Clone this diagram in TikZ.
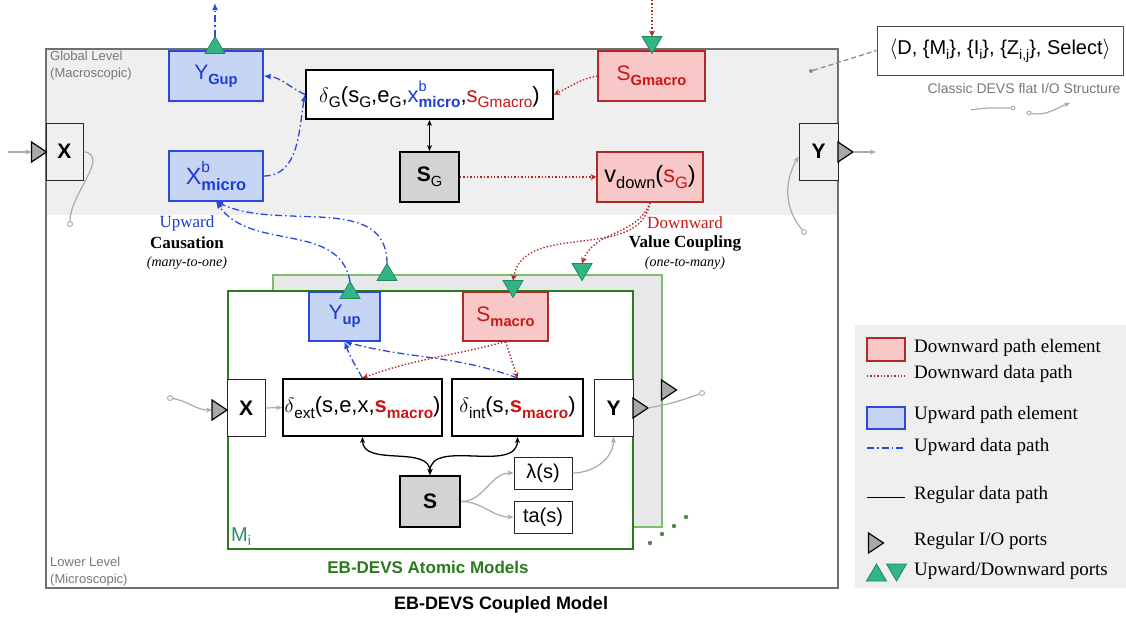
\documentclass[tikz,border=0pt]{standalone}
\usepackage{fontspec}
\setmainfont{Liberation Serif}
\setsansfont{Liberation Sans}
\usetikzlibrary{arrows.meta,positioning}

\definecolor{bggray}{HTML}{EFEFEF}
\definecolor{framegray}{HTML}{707070}
\definecolor{upfill}{HTML}{C6D5F4}
\definecolor{upline}{HTML}{2B48D8}
\definecolor{uptext}{HTML}{1E3CD2}
\definecolor{downfill}{HTML}{F8C8C8}
\definecolor{downline}{HTML}{B02828}
\definecolor{downtext}{HTML}{CC1515}
\definecolor{stategray}{HTML}{D3D3D3}
\definecolor{trifill}{HTML}{32B487}
\definecolor{triline}{HTML}{1E8A64}
\definecolor{iogray}{HTML}{AAAAAA}
\definecolor{portgray}{HTML}{A8A8A8}
\definecolor{atomgreen}{HTML}{2A7A1E}
\definecolor{backgreen}{HTML}{7DBE6E}
\definecolor{backfill}{HTML}{E8E8E8}
\definecolor{mteal}{HTML}{2E8B6E}
\definecolor{lvlgray}{HTML}{787878}

\newcommand{\subtx}[1]{\raisebox{-.45ex}{\fontsize{.7em}{.7em}\selectfont #1}}
\newcommand{\suptx}[1]{\raisebox{.95ex}{\fontsize{.66em}{.66em}\selectfont #1}}

\begin{document}
\begin{tikzpicture}[x=1pt,y=1pt,
	every node/.style={inner sep=0pt, font=\sffamily\fontsize{21}{21}\selectfont},
	sz/.style 2 args={minimum width=#1pt, minimum height=#2pt},
	big/.style={font=\sffamily\fontsize{22}{22}\selectfont},
	bigger/.style={font=\sffamily\fontsize{23.5}{23.5}\selectfont},
	upbox/.style={draw=upline, fill=upfill, line width=1.2pt, text=uptext},
	downbox/.style={draw=downline, fill=downfill, line width=1.2pt, text=downtext},
	fnbox/.style={draw=black, fill=white, line width=2pt},
	statebox/.style={draw=black, fill=stategray, line width=2pt},
	portbox/.style={draw=black!85, line width=1pt},
	outbox/.style={draw=black!85, fill=white, line width=1pt, font=\sffamily\fontsize{20}{20}\selectfont},
	upflow/.style={draw=upline, line width=1.3pt, dash pattern=on 7pt off 3pt on 1.5pt off 3pt, -{Latex[length=7pt,width=6pt]}},
	downflow/.style={draw=downline, line width=1.4pt, dash pattern=on 1.4pt off 2pt, -{Stealth[length=6pt,width=6pt]}},
	plainflow/.style={draw=black, line width=1.3pt, {Stealth[length=6pt,width=5pt]}-{Stealth[length=6pt,width=5pt]}},
	ioflow/.style={draw=iogray, line width=1.2pt, -{Stealth[length=6pt,width=5pt]}},
	pin/.style={circle, draw=iogray, fill=white, line width=.9pt, minimum size=5pt},
	tri/.style={fill=trifill, draw=triline, line width=.8pt},
	iotri/.style={fill=portgray, draw=black, line width=1.2pt},
	uptri/.pic={\draw[tri] (-10,-8.5) -- (0,8.5) -- (10,-8.5) -- cycle;
		\coordinate (-tip) at (0,8.5);},
	downtri/.pic={\draw[tri] (-10,8.5) -- (0,-8.5) -- (10,8.5) -- cycle;
		\coordinate (-top) at (0,8.5);},
	ioport/.pic={\draw[iotri] (-7.5,-10) -- (7.5,0) -- (-7.5,10) -- cycle;
		\coordinate (-in) at (-7.5,0); \coordinate (-out) at (7.5,0);},
	lvl/.style={text=lvlgray, align=left, font=\sffamily\fontsize{13}{17}\selectfont},
	note/.style={font=\rmfamily\fontsize{17}{17}\selectfont},
	legtext/.style={font=\rmfamily\fontsize{19}{19}\selectfont, anchor=west}]

	\useasboundingbox (0,0) rectangle (1126,-621);

	% coupled model frame
	\fill[bggray] (46,-49) rectangle (838,-215);
	\draw[framegray, line width=2pt] (46,-49) rectangle (838,-588);
	\node[lvl, anchor=north west] (glob) at (50,-51) {Global Level\\(Macroscopic)};
	\node[lvl, anchor=south west] (micro) at (50,-586) {Lower Level\\(Microscopic)};

	% global level
	\node[upbox, sz={94}{50}] (ygup) at (216,-76) {Y\subtx{\bfseries Gup}};
	\node[upbox, bigger, sz={94}{50}] (xb) at (216,-176) {X\rlap{\suptx{b}}\subtx{\bfseries micro}};
	\node[fnbox, big, sz={247}{49}] (dG) at (429.5,-94.5)
		{$\delta$\subtx{G}(s\subtx{G},e\subtx{G},\textcolor{uptext}{x\rlap{\suptx{b}}\subtx{\bfseries micro}},\textcolor{downtext}{s\subtx{Gmacro}})};
	\node[downbox, sz={107}{50}] (sgm) at (651.5,-76) {S\subtx{\bfseries Gmacro}};
	\node[statebox, sz={59}{50}] (sG) at (429.5,-177) {\bfseries S\subtx{\mdseries G}};
	\node[downbox, bigger, sz={106}{50}, text=black] (vd) at (650,-177) {v\subtx{down}(\textcolor{downtext}{s\subtx{G}})};
	\node[portbox, fill=bggray, sz={37}{57}] (gX) at (64.5,-151.5) {\bfseries X};
	\node[portbox, fill=bggray, sz={39}{57}] (gY) at (818.5,-151.5) {\bfseries Y};

	% flat structure
	\node[draw=black!70, line width=1pt, sz={246}{49}, font=\sffamily\fontsize{20}{20}\selectfont] (classic) at (1000,-50.5)
		{$\langle$D, \{M\subtx{i}\}, \{I\subtx{i}\}, \{Z\subtx{i,j}\}, Select$\rangle$};
	\node[text=lvlgray, font=\sffamily\fontsize{14}{14}\selectfont] (classiclbl) at (1024,-88) {Classic DEVS flat I/O Structure};
	\node[circle, fill=black!45, minimum size=4pt] (cdot) at (811,-71) {};
	\draw[black!45, line width=1.3pt, dash pattern=on 5pt off 3pt] (cdot) -- (classic.west);
	\coordinate (cs1) at (971,-110);
	\node[pin, minimum size=4pt] (cp1) at (1013,-108) {};
	\node[pin, minimum size=4pt] (cp2) at (1029,-113) {};
	\coordinate (cs2) at (1070,-103);
	\draw[iogray, line width=1.2pt] (cs1) to[out=10,in=180] (cp1);
	\draw[ioflow] (cp2) to[out=-10,in=200] (cs2);

	% atomic models
	\draw[backgreen, fill=backfill, line width=1.2pt] (273,-275) rectangle (662,-527);
	\draw[atomgreen, fill=white, line width=2pt] (228,-291) rectangle (633,-549);
	\node[upbox, sz={71}{49}] (yup) at (344.5,-316.5) {Y\subtx{\bfseries up}};
	\node[downbox, sz={85}{49}] (smac) at (505.5,-316.5) {S\subtx{\bfseries macro}};
	\node[fnbox, big, sz={159}{57}] (dext) at (362.5,-407.5)
		{$\delta$\subtx{ext}(s,e,x,\textcolor{downtext}{\bfseries s\subtx{macro}})};
	\node[fnbox, big, sz={131}{57}] (dint) at (517.5,-407.5)
		{$\delta$\subtx{int}(s,\textcolor{downtext}{\bfseries s\subtx{macro}})};
	\node[portbox, fill=white, sz={38}{57}] (aX) at (246,-408) {\bfseries X};
	\node[portbox, fill=white, sz={39}{57}] (aY) at (613.5,-408) {\bfseries Y};
	\node[statebox, sz={60}{51}] (sS) at (430,-501.5) {\bfseries S};
	\node[outbox, sz={58}{32}] (lam) at (543,-473) {λ(s)};
	\node[outbox, sz={58}{32}] (ta) at (543,-517) {ta(s)};
	\node[anchor=south west, text=mteal, font=\sffamily\fontsize{20}{20}\selectfont] (mi) at (231,-546) {M\subtx{i}};
	\node[text=atomgreen, font=\sffamily\bfseries\fontsize{17}{17}\selectfont] (atomlbl) at (428,-567) {EB-DEVS Atomic Models};
	\node[font=\sffamily\bfseries\fontsize{18}{18}\selectfont] (cplbl) at (501,-605) {EB-DEVS Coupled Model};
	\foreach \i/\j in {650/543, 662/534, 674/526, 686/517}
		\fill[atomgreen!85] (\i,-\j) circle (2.2pt);

	% ports
	\pic (gupt) at (215,-45) {uptri};
	\pic (gmt) at (652,-45) {downtri};
	\pic (yut) at (350,-290) {uptri};
	\pic (but) at (387,-272) {uptri};
	\pic (smt) at (513,-289) {downtri};
	\pic (bdt) at (582,-272) {downtri};
	\pic (gxp) at (39,-152) {ioport};
	\pic (gyp) at (845.5,-152) {ioport};
	\pic (axp) at (219.5,-410) {ioport};
	\pic (ayp) at (640.5,-408) {ioport};
	\pic (byp) at (669,-390) {ioport};

	% labels on the level crossing
	\node[note, text=uptext] (uplbl) at (187,-223) {Upward};
	\node[note, font=\rmfamily\bfseries\fontsize{17}{17}\selectfont] (causlbl) at (187,-243) {Causation};
	\node[note, font=\rmfamily\itshape\fontsize{14}{14}\selectfont] (manylbl) at (187,-263) {(many-to-one)};
	\node[note, text=downtext] (dnlbl) at (685,-223) {Downward};
	\node[note, font=\rmfamily\bfseries\fontsize{17}{17}\selectfont] (vclbl) at (685,-243) {Value Coupling};
	\node[note, font=\rmfamily\itshape\fontsize{14}{14}\selectfont] (onelbl) at (685,-263) {(one-to-many)};

	% upward paths
	\coordinate (gupout) at (215,-3);
	\draw[upflow] (gupt-tip) -- (gupout);
	\draw[upflow] (dG.west) to[out=155,in=-5] (ygup.east);
	\draw[upflow] (xb.east) to[out=0,in=-100] (dG.west);
	\draw[upflow] (yut-tip) to[out=100,in=-55] (xb.south);
	\draw[upflow] (but-tip) to[out=90,in=-25] (xb.south);
	\draw[upflow] (dext.north) to[out=120,in=-70] (yup.south);
	\draw[upflow] (dint.north) to[out=160,in=-15] (yup.south);

	% downward paths
	\coordinate (gmin) at (652,0);
	\draw[downflow] (gmin) -- (gmt-top);
	\draw[downflow] (sgm.west) to[out=190,in=25] (dG.east);
	\draw[downflow] (sG.east) -- (vd.west);
	\draw[downflow] (vd.south) to[out=-100,in=80] (smt-top);
	\draw[downflow] (vd.south) to[out=-110,in=70] (bdt-top);
	\draw[downflow] (smac.south) to[out=-165,in=20] (dext.north);
	\draw[downflow] (smac.south) -- (dint.north);

	% regular paths
	\draw[plainflow] (dG.south) -- (sG.north);
	\draw[plainflow] (dext.south) to[out=-90,in=90] (sS.north);
	\draw[plainflow] (dint.south) to[out=-90,in=90] (sS.north);
	\coordinate (gin) at (8,-152);
	\coordinate (gout) at (876,-152);
	\draw[ioflow] (gin) -- (gxp-in);
	\draw[ioflow] (gyp-out) -- (gout);
	\node[pin] (gxpin) at (70,-224) {};
	\node[pin] (gypin) at (804,-232) {};
	\draw[iogray, line width=1.2pt] (gX.east) to[out=-10,in=90] (gxpin);
	\draw[ioflow] (gypin) to[out=130,in=-120] ([yshift=-5pt]gY.west);
	\node[pin] (axpin) at (170,-398) {};
	\node[pin] (aypin) at (702,-393) {};
	\draw[ioflow] (axpin) to[out=-10,in=180] (axp-in);
	\draw[ioflow] (aX.east) -- (dext.west);
	\draw[iogray, line width=1.2pt] (ayp-out) to[out=10,in=200] (aypin);
	\draw[ioflow] (sS.east) to[out=0,in=180] (lam.west);
	\draw[ioflow] (sS.east) to[out=0,in=180] (ta.west);
	\draw[ioflow] (lam.east) to[out=0,in=-90] (aY.south);

	% legend
	\fill[bggray] (855,-325) rectangle (1126,-588);
	\node[downbox, sz={38}{23}] (lgdown) at (886,-349.5) {};
	\node[legtext] (lt1) at (914,-348) {Downward path element};
	\coordinate (ld1) at (867,-376); \coordinate (ld2) at (905,-376);
	\draw[downflow,-] (ld1) -- (ld2);
	\node[legtext] (lt2) at (914,-374) {Downward data path};
	\node[upbox, sz={38}{22}] (lgup) at (886,-418) {};
	\node[legtext] (lt3) at (914,-415) {Upward path element};
	\coordinate (lu1) at (867,-448); \coordinate (lu2) at (905,-448);
	\draw[upflow,-] (lu1) -- (lu2);
	\node[legtext] (lt4) at (914,-447) {Upward data path};
	\coordinate (lr1) at (867,-497); \coordinate (lr2) at (905,-497);
	\draw[black, line width=1pt] (lr1) -- (lr2);
	\node[legtext] (lt5) at (914,-495) {Regular data path};
	\pic (lgio) at (876,-543) {ioport};
	\node[legtext] (lt6) at (914,-541) {Regular I/O ports};
	\pic (lgut) at (876.5,-572.5) {uptri};
	\pic (lgdt) at (896.5,-572.5) {downtri};
	\node[legtext] (lt7) at (914,-571) {Upward/Downward ports};
\end{tikzpicture}
\end{document}
